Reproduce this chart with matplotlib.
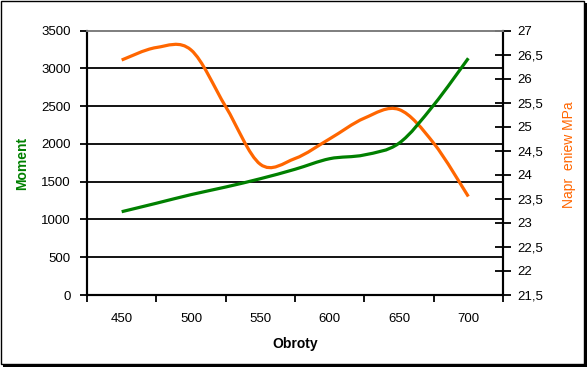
import matplotlib
matplotlib.use("Agg")
import matplotlib.pyplot as plt
from matplotlib.path import Path
from matplotlib.patches import PathPatch, Rectangle

# ---------------------------------------------------------------------------
# Data
# ---------------------------------------------------------------------------
rpm = [450, 475, 500, 525, 550, 575, 600, 625, 650, 675, 700]
moment = [1103, 1215, 1329, 1430, 1540, 1665, 1805, 1855, 2010, 2515, 3135]
stress = [26.39, 26.65, 26.60, 25.42, 24.22, 24.34, 24.75, 25.18, 25.36, 24.66, 23.55]

x_labels = [450, 500, 550, 600, 650, 700]
left_ticks = [0, 500, 1000, 1500, 2000, 2500, 3000, 3500]
right_ticks = [21.5, 22, 22.5, 23, 23.5, 24, 24.5, 25, 25.5, 26, 26.5, 27]

GREEN = "#008000"
ORANGE = "#FF6600"
W, H = 587, 367

plt.rcParams["font.family"] = ["Liberation Sans", "DejaVu Sans"]


def smooth_path(xs, ys):
    """Excel-style smoothed line: cubic Bezier through every point."""
    pts = list(zip(xs, ys))
    verts = [pts[0]]
    codes = [Path.MOVETO]
    n = len(pts)
    for i in range(n - 1):
        p0 = pts[max(i - 1, 0)]
        p1 = pts[i]
        p2 = pts[i + 1]
        p3 = pts[min(i + 2, n - 1)]
        c1 = (p1[0] + (p2[0] - p0[0]) / 6, p1[1] + (p2[1] - p0[1]) / 6)
        c2 = (p2[0] - (p3[0] - p1[0]) / 6, p2[1] - (p3[1] - p1[1]) / 6)
        verts += [c1, c2, p2]
        codes += [Path.CURVE4] * 3
    return Path(verts, codes)


fig = plt.figure(figsize=(W / 100, H / 100), dpi=100)
fig.patch.set_facecolor("white")

# chart frame with a small shadow, as Excel draws it
fig.patches.append(Rectangle((3 / W, 0), 1 - 3 / W, 1 - 3 / H, transform=fig.transFigure,
                             facecolor="black", edgecolor="none", zorder=-2))
fig.patches.append(Rectangle((0.5 / W, 3 / H), 1 - 3.5 / W, 1 - 3.5 / H, transform=fig.transFigure,
                             facecolor="white", edgecolor="black", linewidth=1.0, zorder=-1))

ax = fig.add_axes([87 / W, 1 - 295 / H, 416 / W, 264.3 / H])
ax2 = ax.twinx()

# ── axes ranges and ticks ────────────────────────────────────────────────
ax.set_xlim(425, 725)
ax.set_ylim(0, 3500)
ax2.set_ylim(21.5, 27)

bounds = [x_labels[0] - 25] + [v + 25 for v in x_labels]
ax.set_xticks(bounds)
ax.set_xticklabels([])
ax.set_xticks(x_labels, minor=True)
ax.set_xticklabels([str(v) for v in x_labels], minor=True)
ax.tick_params(axis="x", which="major", direction="out", length=5, width=1.3, color="black")
ax.tick_params(axis="x", which="minor", length=0, pad=13, labelsize=9.5)

ax.set_yticks(left_ticks)
ax.set_yticklabels([str(v) for v in left_ticks])
ax.tick_params(axis="y", direction="out", length=5, width=1.3, pad=6.5, labelsize=9.5)

ax2.set_yticks(right_ticks)
ax2.set_yticklabels([f"{v:g}".replace(".", ",") for v in right_ticks])
ax2.tick_params(axis="y", direction="inout", length=12, width=1.3, pad=4.5, labelsize=9.5)

# gridlines (top one is the grey plot-area border)
for v in left_ticks[1:-1]:
    ax.axhline(v, color="black", linewidth=1.3, zorder=0.5)

for a in (ax, ax2):
    a.spines["top"].set_color("#808080")
    a.spines["top"].set_linewidth(1.3)
    a.spines["left"].set_linewidth(1.5)
    a.spines["bottom"].set_linewidth(1.5)
    a.spines["right"].set_linewidth(1.5)
ax2.patch.set_visible(False)

# ── series ───────────────────────────────────────────────────────────────
ax2.add_patch(PathPatch(smooth_path(rpm, stress), facecolor="none", edgecolor=ORANGE,
                        linewidth=2.3, capstyle="butt", zorder=2))
ax2.add_patch(PathPatch(smooth_path(rpm, moment), facecolor="none", edgecolor=GREEN,
                        linewidth=2.3, capstyle="butt", zorder=3, transform=ax.transData))

# ── axis titles ──────────────────────────────────────────────────────────
fig.text(295 / W, 1 - 344 / H, "Obroty", ha="center", va="center",
         fontsize=10, fontweight="bold", color="black")
fig.text(22.5 / W, 1 - 163 / H, "Moment", ha="center", va="center", rotation=90,
         fontsize=10, fontweight="bold", color=GREEN)
fig.text(569 / W, 1 - 155 / H, "Napr  eniew MPa", ha="center", va="center", rotation=90,
         fontsize=10, color=ORANGE)

fig.savefig("out.png", dpi=100, facecolor=fig.get_facecolor())
